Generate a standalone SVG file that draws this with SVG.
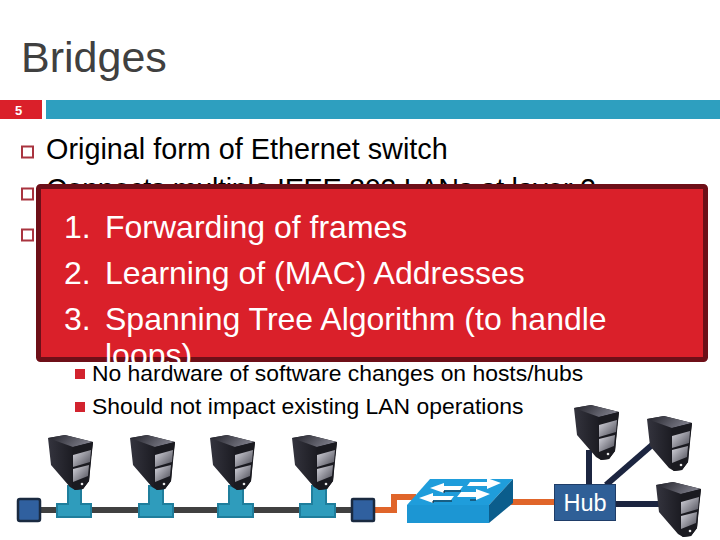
<svg xmlns="http://www.w3.org/2000/svg" width="720" height="540" viewBox="0 0 720 540">
<style>
text{font-family:"Liberation Sans",Arial,sans-serif}
.body{font-size:28.8px;fill:#000}
.sub{font-size:22.9px;fill:#000}
.box{font-size:32px;fill:#fff}
.bul{fill:#fff;stroke:#a9343f;stroke-width:2}
.subb{fill:#d2232e}
.tee{fill:#2f9cbc;stroke:#1f7e9c;stroke-width:2}
.term{fill:#30609f;stroke:#1a2a40;stroke-width:2.5}
.lan{stroke:#404040;stroke-width:6;fill:none}
.org{stroke:#e0652a;stroke-width:6;fill:none}
.hubl{stroke:#1c2540;stroke-width:6;fill:none}
</style>
<defs>
<linearGradient id="sd" x1="0" y1="0" x2="1" y2="0"><stop offset="0" stop-color="#34343e"/><stop offset="1" stop-color="#08080c"/></linearGradient>
<linearGradient id="st" x1="0" y1="0" x2="1" y2="0.3"><stop offset="0" stop-color="#1e1e26"/><stop offset="1" stop-color="#7c7c88"/></linearGradient>
<linearGradient id="sb" x1="0" y1="0" x2="1" y2="1"><stop offset="0" stop-color="#d8d8e0"/><stop offset="1" stop-color="#4a4a54"/></linearGradient>
<g id="srv">
<path d="M0 3 L17 0 L45 7 L43 22 L41 46 L35 54 L27 55 L22 52 L3 30Z" fill="url(#sd)"/>
<path d="M0 3 L17 0 L45 7 L25 12Z" fill="url(#st)"/>
<path d="M25 12 L45 7 L41 46 L35 54 L27 55 L24 52Z" fill="#1a1a20"/>
<path d="M25 20 L43 15 L42 27 L25 32Z" fill="url(#sb)"/>
<path d="M25 34 L41 30 L40 41 L25 47Z" fill="url(#sb)"/>
<circle cx="34" cy="49" r="1.300" fill="#e8e8e8"/>
</g>
</defs>
<rect width="720" height="540" fill="#fff"/>
<g id="header">
<text x="21" y="72" font-size="43" fill="#404040">Bridges</text>
<rect x="0" y="100" width="42" height="19" fill="#da202a"/>
<rect x="46" y="100" width="674" height="19" fill="#2e9fbf"/>
<text x="15" y="115" font-size="13" font-weight="bold" fill="#fff">5</text>
</g>
<g id="bullets">
<rect class="bul" x="22" y="146.500" width="11" height="11"/>
<rect class="bul" x="22" y="188.500" width="11" height="11"/>
<rect class="bul" x="22" y="229.500" width="11" height="11"/>
<text class="body" x="46" y="158.500">Original form of Ethernet switch</text>
<text class="body" x="46" y="199" textLength="550">Connects multiple IEEE 802 LANs at layer 2</text>
</g>
<g id="callout">
<rect x="38.500" y="186.500" width="667" height="173" rx="2" fill="#da202a" stroke="#6e0f18" stroke-width="5"/>
<text class="box" x="64" y="238">1.</text><text class="box" x="105" y="238">Forwarding of frames</text>
<text class="box" x="64" y="284">2.</text><text class="box" x="105" y="284">Learning of (MAC) Addresses</text>
<text class="box" x="64" y="330">3.</text><text class="box" x="105" y="330">Spanning Tree Algorithm (to handle</text>
<text class="box" x="105" y="366">loops)</text>
</g>
<g id="subbullets">
<rect class="subb" x="75" y="369" width="10" height="10"/>
<rect class="subb" x="75" y="402" width="10" height="10"/>
<text class="sub" x="92" y="381">No hardware of software changes on hosts/hubs</text>
<text class="sub" x="92" y="413.500">Should not impact existing LAN operations</text>
</g>
<g id="connectors">
<path class="lan" d="M40 510H352"/>
<path class="org" d="M373 510H394V497H416"/>
<path class="org" d="M510 502H555"/>
<path class="hubl" d="M589 450V485"/>
<path class="hubl" d="M606 485L652 445"/>
<path class="hubl" d="M616 504H662"/>
</g>
<g id="tap1"><path class="tee" d="M68 486H81V504H91V517H57V504H68Z"/></g>
<g id="tap2"><path class="tee" d="M149 486H163V504H173V517H139V504H149Z"/></g>
<g id="tap3"><path class="tee" d="M229 486H243V504H253V517H218V504H229Z"/></g>
<g id="tap4"><path class="tee" d="M312 486H326V504H335V517H300V504H312Z"/></g>
<g id="terminator1"><rect class="term" x="18" y="499" width="22" height="22" rx="2"/></g>
<g id="terminator2"><rect class="term" x="352" y="499" width="22" height="22" rx="1"/></g>
<g id="server1"><use href="#srv" x="48" y="435"/></g>
<g id="server2"><use href="#srv" x="130" y="435"/></g>
<g id="server3"><use href="#srv" x="210" y="435"/></g>
<g id="server4"><use href="#srv" x="292" y="435"/></g>
<g id="server5"><use href="#srv" x="574" y="405"/></g>
<g id="server6"><use href="#srv" x="647" y="416"/></g>
<g id="server7"><use href="#srv" x="656" y="482"/></g>
<g id="switch">
<path d="M407 505L430 479H513L489 505Z" fill="#1f9ddb"/>
<path d="M407 505H489V523H407Z" fill="#1c96d3"/>
<path d="M489 505L513 479V503L489 523Z" fill="#0b5d8c"/>
<path d="M430 488L444 483V486H463L460 490H444V493Z" fill="#fff"/>
<path d="M501 483L487 489V486H467L470 482H487V478Z" fill="#fff"/>
<path d="M419 498L433 493V496H454L451 500H433V503Z" fill="#fff"/>
<path d="M490 494L476 500V497H457L461 492H476V489Z" fill="#fff"/>
<path d="M444 493V491H461M433 503V501H452M476 500H470" stroke="#10202e" stroke-width="1" fill="none"/>
</g>
<g id="hub">
<rect x="554.500" y="484.500" width="61" height="36" fill="#2f5f97" stroke="#1f3d68" stroke-width="1"/>
<text x="585" y="511" font-size="23.500" fill="#fff" text-anchor="middle">Hub</text>
</g>
</svg>
